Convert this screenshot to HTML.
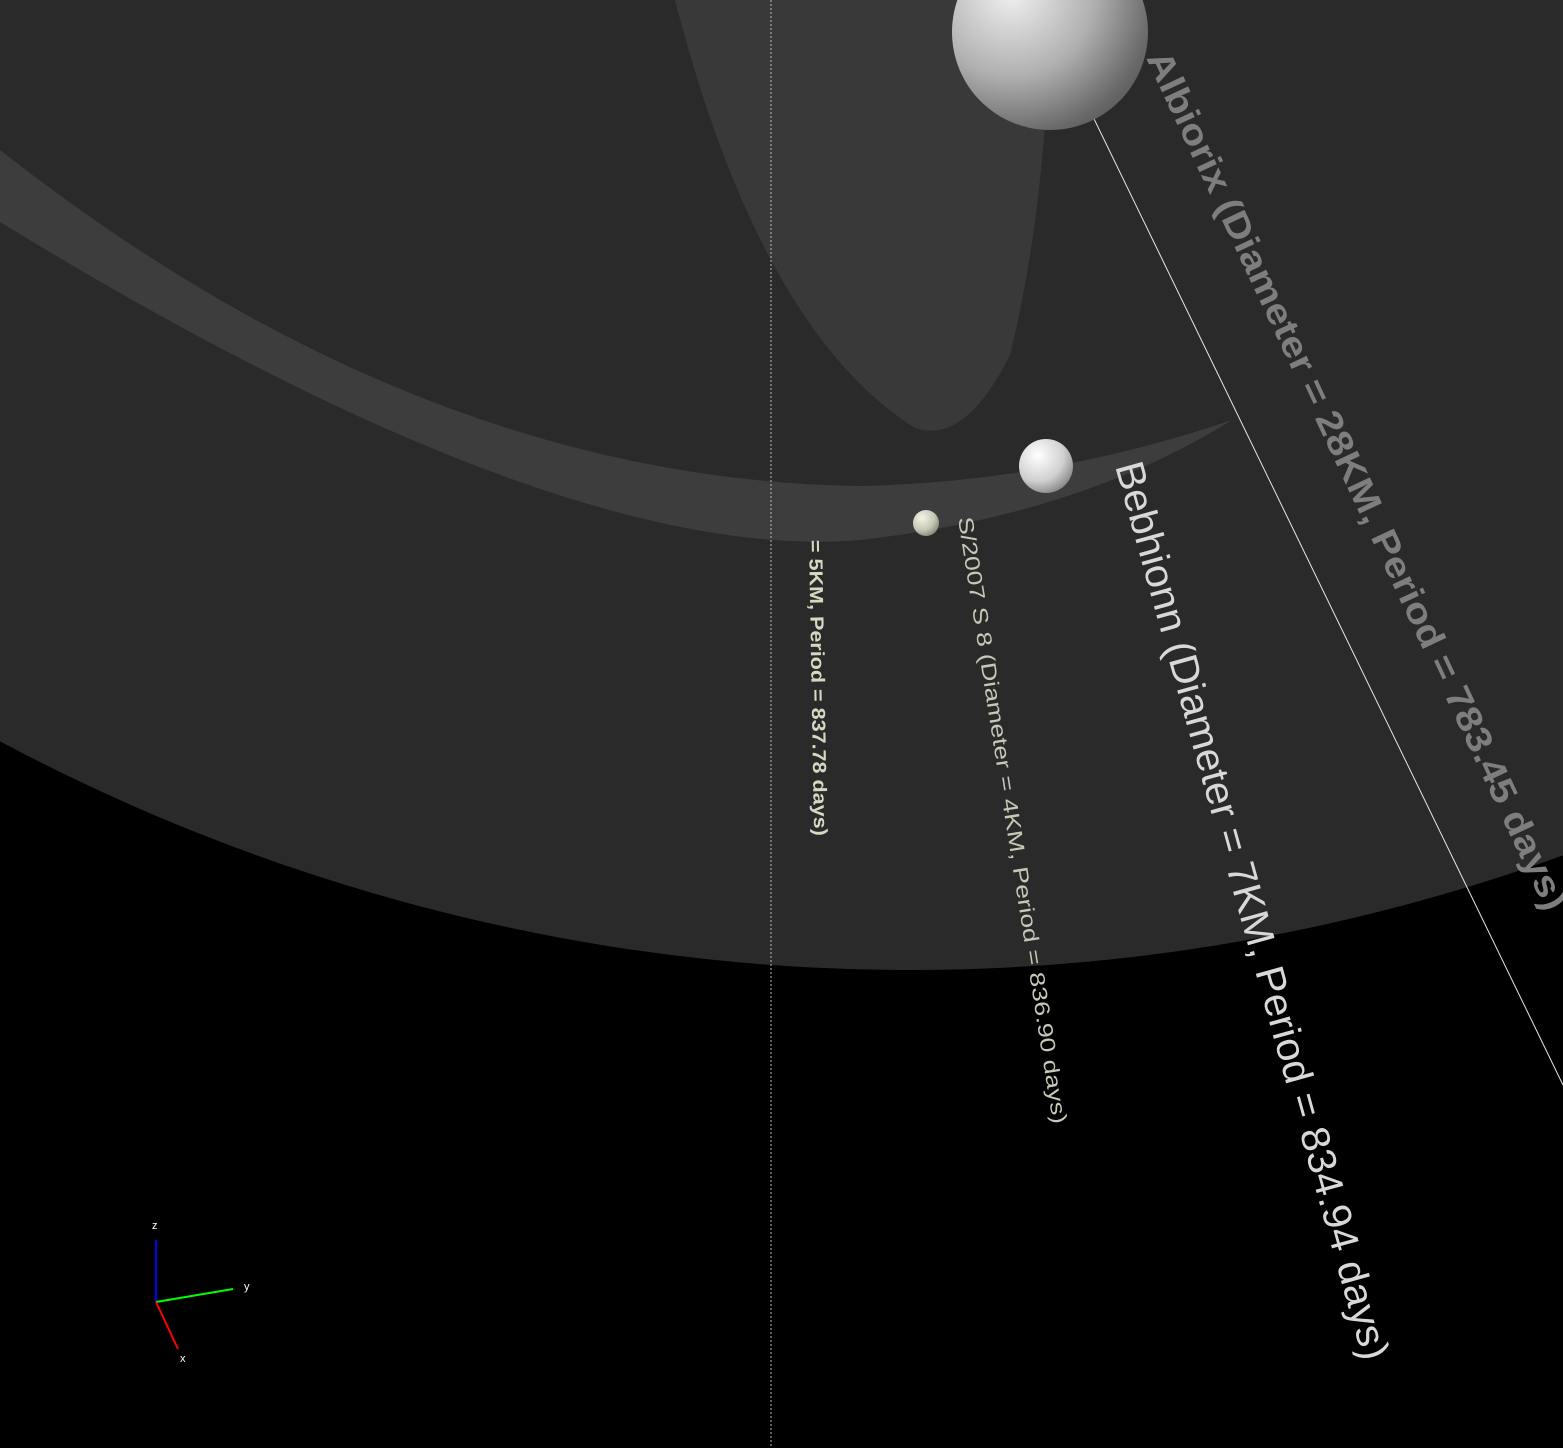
<!DOCTYPE html>
<html><head><meta charset="utf-8"><style>
html,body{margin:0;padding:0;background:#000;width:1563px;height:1448px;overflow:hidden}
svg{display:block}
text{font-family:"Liberation Sans",sans-serif}
</style></head><body>
<svg id="scene" width="1563" height="1448" viewBox="0 0 1563 1448" xmlns="http://www.w3.org/2000/svg">
<defs>
<radialGradient id="gBig" cx="0.3" cy="0.3" r="0.85">
<stop offset="0" stop-color="#f0f0f0"/><stop offset="0.5" stop-color="#b0b0b0"/><stop offset="0.85" stop-color="#6a6a6a"/><stop offset="1" stop-color="#555"/></radialGradient>
<radialGradient id="gMid" cx="0.35" cy="0.3" r="0.8">
<stop offset="0" stop-color="#ffffff"/><stop offset="0.6" stop-color="#d0d0d0"/><stop offset="1" stop-color="#7a7a7a"/></radialGradient>
<radialGradient id="gSmall" cx="0.35" cy="0.3" r="0.8">
<stop offset="0" stop-color="#f4f4e8"/><stop offset="0.6" stop-color="#c4c6b4"/><stop offset="1" stop-color="#7a7c6c"/></radialGradient>
</defs>
<ellipse cx="910" cy="-1230" rx="2050" ry="2200" fill="#2a2a2a"/>
<path d="M0,222 Q560,565 860,540 Q1080,515 1232,420 Q1050,482 860,486 Q420,480 0,150 Z" fill="#3d3d3d"/>
<path d="M675,0 Q760,330 915,428 Q965,445 1010,355 Q1048,200 1050,0 Z" fill="#393939"/>
<line x1="771" y1="0" x2="771" y2="1448" stroke="#bbbbbb" stroke-width="1" stroke-dasharray="2,2"/>
<line x1="1080" y1="90" x2="1563" y2="1085" stroke="#e8e8e8" stroke-width="1"/>
<g id="moons"></g>
<g id="labels"></g>
<g>
<line x1="156" y1="1302" x2="156" y2="1240" stroke="#0000ff" stroke-width="2"/>
<line x1="156" y1="1302" x2="233" y2="1289" stroke="#00ff00" stroke-width="2"/>
<line x1="156" y1="1302" x2="178" y2="1349" stroke="#ff0000" stroke-width="2"/>
<text x="152" y="1229" font-size="11" fill="#fff">z</text>
<text x="244" y="1290" font-size="11" fill="#fff">y</text>
<text x="180" y="1362" font-size="11" fill="#fff">x</text>
</g>
</svg>
<script>
const moonNames = ["albiorix","bebhionn","s2007-s8"];
const moonX = [1050,1046,926];
const moonY = [32,466,523];
const moonR = [98,27,13];
const moonFill = ["url(#gBig)","url(#gMid)","url(#gSmall)"];
const labelTexts = ["Albiorix (Diameter = 28KM, Period = 783.45 days)","Bebhionn (Diameter = 7KM, Period = 834.94 days)","S/2007 S 8 (Diameter = 4KM, Period = 836.90 days)","= 5KM, Period = 837.78 days)"];
const labelX = [1146,1115,958,809];
const labelY = [58,466,518,540];
const labelAngle = [64.9,74.5,81.1,89.0];
const labelLen = [944,930,614,296];
const labelSize = [36,40,21,19];
const labelColor = ["#7e7e7e","#d8d8d8","#c8c8b8","#d8d8c2"];
const NS="http://www.w3.org/2000/svg";
const mg=document.getElementById('moons');
moonNames.forEach((n,i)=>{
  const c=document.createElementNS(NS,'circle');
  c.setAttribute('cx',moonX[i]);c.setAttribute('cy',moonY[i]);c.setAttribute('r',moonR[i]);
  c.setAttribute('fill',moonFill[i]);
  
  
  mg.appendChild(c);
});
const lg=document.getElementById('labels');
labelTexts.forEach((t,i)=>{
  const e=document.createElementNS(NS,'text');
  e.setAttribute('transform','translate('+labelX[i]+','+labelY[i]+') rotate('+labelAngle[i]+')');
  e.setAttribute('font-size',labelSize[i]);
  e.setAttribute('fill',labelColor[i]);
  e.setAttribute('textLength',labelLen[i]);
  e.setAttribute('lengthAdjust','spacingAndGlyphs');
  if(i===0||i===3){e.setAttribute('font-weight','bold');}
  e.textContent=t;
  
  
  lg.appendChild(e);
});
</script>
</body></html>
